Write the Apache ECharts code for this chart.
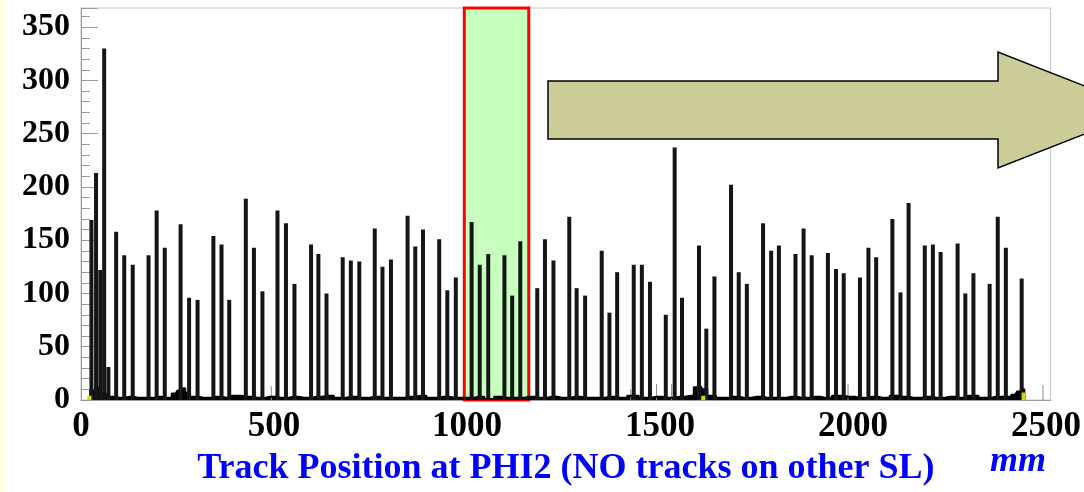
<!DOCTYPE html>
<html>
<head>
<meta charset="utf-8">
<script src="https://cdn.jsdelivr.net/npm/echarts@6/dist/echarts.min.js"></script>
<style>
  html, body { margin: 0; padding: 0; background: #ffffff; }
  #chart { width: 1084px; height: 492px; }
</style>
</head>
<body>
<div id="chart"></div>
<script>
// Hit counts per track position (mm): main peaks of the histogram
const peakPositions = [
  27, 39, 50, 60, 71, 91, 112, 134, 175, 196, 217, 258, 280, 302, 343, 364, 384,
  427, 448, 470, 509, 531, 553, 596, 615, 636, 678, 699, 721, 761, 781, 803,
  846, 866, 886, 928, 949, 971, 1012, 1033, 1055, 1097, 1117, 1138, 1182, 1202, 1224,
  1265, 1284, 1306, 1349, 1369, 1389, 1432, 1453, 1474, 1515, 1538, 1557,
  1601, 1620, 1641, 1684, 1704, 1725, 1767, 1788, 1808, 1851, 1872, 1893,
  1935, 1956, 1976, 2018, 2040, 2060, 2102, 2123, 2144, 2186, 2207, 2227,
  2271, 2291, 2312, 2354, 2375, 2396, 2437
];
const peakCounts = [
  169, 213, 122, 330, 31, 158, 136, 127, 136, 178, 143, 165, 96, 94, 154, 146, 94,
  189, 143, 102, 178, 166, 109, 146, 137, 100, 134, 131, 130, 161, 125, 132,
  173, 144, 160, 151, 103, 115, 167, 127, 137, 136, 98, 149, 105, 151, 131,
  172, 105, 98, 140, 82, 120, 127, 127, 111, 80, 237, 96,
  145, 67, 116, 202, 120, 109, 166, 140, 145, 137, 161, 136,
  138, 123, 119, 115, 143, 134, 170, 101, 185, 145, 146, 139,
  147, 100, 119, 109, 172, 143, 114
];

// Isolated single-bin entries
const strayPositions = [497, 1428, 1495, 1534, 1991, 2496];
const strayCounts    = [13, 10, 15, 15, 15, 14];

// Low-level background along the chamber
const bgPositions = [
  18, 30, 45, 55, 65, 80, 100, 125, 150, 175, 200, 225, 245, 255, 265, 275, 290,
  320, 350, 380, 400, 430, 460, 490, 520, 550, 580, 610, 640, 670, 700, 730,
  760, 790, 820, 850, 880, 910, 940, 970, 1000, 1030, 1060, 1080, 1100, 1130,
  1160, 1190, 1220, 1250, 1280, 1310, 1340, 1370, 1400, 1430, 1460, 1490, 1520,
  1550, 1580, 1595, 1605, 1615, 1630, 1660, 1690, 1720, 1750, 1780, 1810, 1840,
  1870, 1900, 1930, 1960, 1990, 2020, 2050, 2080, 2110, 2130, 2160, 2190, 2220,
  2250, 2280, 2310, 2340, 2370, 2400, 2420, 2430, 2440, 2448
];
const bgCounts = [
  2, 9, 12, 6, 5, 3, 2, 3, 2, 2, 3, 2, 6, 9, 11, 7, 3,
  2, 3, 2, 4, 3, 2, 3, 2, 3, 2, 3, 4, 2, 3, 2,
  3, 2, 2, 3, 4, 2, 3, 2, 2, 3, 1, 3, 2, 2,
  3, 2, 3, 2, 3, 2, 2, 3, 2, 4, 2, 3, 2,
  3, 4, 12, 13, 10, 4, 2, 3, 2, 3, 2, 2, 3,
  2, 3, 2, 4, 3, 2, 3, 2, 4, 3, 2, 3, 2,
  3, 2, 4, 2, 3, 3, 5, 8, 10, 3
];

// Second (low-statistics) histogram, drawn in yellow
const lowPositions = [22, 1612, 2442];
const lowCounts    = [4, 4, 7];

// Highlighted position window (mm)
const windowRange = [993, 1160];

// Axis settings
const xMax = 2512, yMax = 368;
const xTickStep = 500, yTickStep = 50;

const zip = (xs, ys) => xs.map((x, i) => [x, ys[i]]);

const serifFont = '"Liberation Serif", "Times New Roman", serif';
const chart = echarts.init(document.getElementById('chart'));

chart.setOption({
  animation: false,
  backgroundColor: '#ffffff',
  grid: {
    left: 81, right: 32, top: 8, bottom: 89,
    show: true, backgroundColor: '#ffffff', borderColor: '#c4c4c4', borderWidth: 1
  },
  xAxis: {
    type: 'value', min: 0, max: xMax, interval: xTickStep,
    axisLine: { show: true, lineStyle: { color: '#a0a0a0', width: 1 } },
    axisTick: { show: false },
    splitLine: { show: false },
    axisLabel: {
      showMaxLabel: false, margin: 9,
      formatter: (v) => String(v),
      fontFamily: serifFont, fontWeight: 'bold', fontSize: 35, color: '#000'
    },
    name: 'Track Position at PHI2 (NO tracks on other SL)',
    nameLocation: 'middle', nameGap: 51,
    nameTextStyle: { fontFamily: serifFont, fontWeight: 'bold', fontSize: 36, color: '#0000ff' }
  },
  yAxis: {
    type: 'value', min: 0, max: yMax, interval: yTickStep,
    axisLine: { show: true, lineStyle: { color: '#9a9a9a', width: 1 } },
    axisTick: { show: true, inside: true, length: 17, lineStyle: { color: '#9a9a9a' } },
    minorTick: { show: true, splitNumber: 5, length: 9, lineStyle: { color: '#9a9a9a' } },
    splitLine: { show: false },
    axisLabel: {
      showMaxLabel: false, margin: 11,
      fontFamily: serifFont, fontWeight: 'bold', fontSize: 32, color: '#000'
    }
  },
  series: [
    {
      // highlighted window
      type: 'line', data: [], z: 1, silent: true,
      markArea: {
        silent: true,
        itemStyle: { color: '#c6ffbe', borderColor: '#ff0000', borderWidth: 3 },
        data: [[{ xAxis: windowRange[0], yAxis: 0 }, { xAxis: windowRange[1], yAxis: yMax }]]
      }
    },
    {
      type: 'line', step: 'middle', data: zip(bgPositions, bgCounts), z: 3,
      symbol: 'none', lineStyle: { color: '#000', width: 2 },
      areaStyle: { color: '#000', opacity: 1 }
    },
    {
      type: 'bar', data: zip(strayPositions, strayCounts), z: 3,
      barWidth: 1, itemStyle: { color: '#8a8a8a' }
    },
    {
      type: 'bar', data: zip(peakPositions, peakCounts), z: 4, barGap: '-100%',
      barWidth: 4, itemStyle: { color: '#151515' }
    },
    {
      type: 'bar', data: zip(lowPositions, lowCounts), z: 5, barGap: '-100%',
      barWidth: 4, itemStyle: { color: '#d8d800' }
    }
  ],
  graphic: [
    {
      type: 'rect', left: 0, top: 0, z: 0,
      shape: { width: 4, height: 492 },
      style: { fill: '#ffffd8' }
    },
    {
      type: 'polygon', z: 100,
      shape: {
        points: [[548, 81], [998, 81], [998, 52], [1146, 110], [998, 168], [998, 139], [548, 139]]
      },
      style: { fill: '#cccc99', stroke: '#000', lineWidth: 1.5 }
    },
    {
      type: 'text', left: 990, top: 444, z: 100,
      style: {
        text: 'mm', fill: '#0000ff',
        font: 'italic bold 36px "Liberation Serif", serif'
      }
    }
  ]
});
</script>
</body>
</html>
